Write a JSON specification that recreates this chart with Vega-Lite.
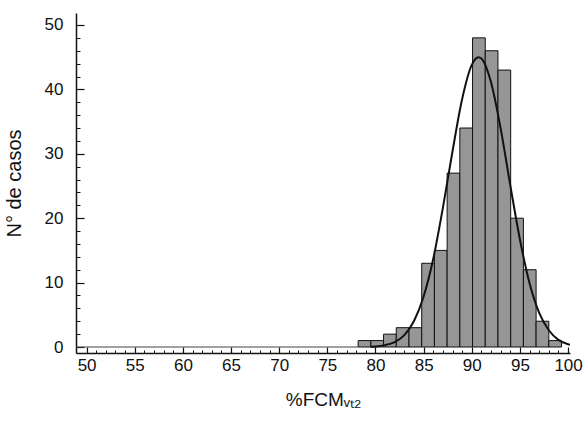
{
  "$schema": "https://vega.github.io/schema/vega-lite/v6.json",
  "width": 494,
  "height": 340,
  "autosize": "none",
  "padding": {"left": 76, "top": 13, "right": 17, "bottom": 69},
  "background": "white",
  "config": {
    "view": {"stroke": null},
    "font": "Liberation Sans",
    "axis": {"grid": false, "domainColor": "#111", "tickColor": "#111", "labelColor": "#111", "titleColor": "#111", "labelFont": "Liberation Sans", "titleFont": "Liberation Sans", "titleFontWeight": "normal"}
  },
  "datasets": {
    "bins": [
      {"x0": 78.2, "x1": 79.52, "n": 1},
      {"x0": 79.52, "x1": 80.84, "n": 1},
      {"x0": 80.84, "x1": 82.16, "n": 2},
      {"x0": 82.16, "x1": 83.48, "n": 3},
      {"x0": 83.48, "x1": 84.8, "n": 3},
      {"x0": 84.8, "x1": 86.12, "n": 13},
      {"x0": 86.12, "x1": 87.44, "n": 15},
      {"x0": 87.44, "x1": 88.76, "n": 27},
      {"x0": 88.76, "x1": 90.08, "n": 34},
      {"x0": 90.08, "x1": 91.4, "n": 48},
      {"x0": 91.4, "x1": 92.72, "n": 46},
      {"x0": 92.72, "x1": 94.04, "n": 43},
      {"x0": 94.04, "x1": 95.36, "n": 20},
      {"x0": 95.36, "x1": 96.68, "n": 12},
      {"x0": 96.68, "x1": 98.0, "n": 4},
      {"x0": 98.0, "x1": 99.32, "n": 1}
    ],
    "curve": [
      {"x": 79.5, "y": 0.05},
      {"x": 80, "y": 0.09},
      {"x": 81, "y": 0.29},
      {"x": 82, "y": 0.77},
      {"x": 83, "y": 1.85},
      {"x": 84, "y": 4.03},
      {"x": 85, "y": 7.84},
      {"x": 86, "y": 13.7},
      {"x": 87, "y": 21.6},
      {"x": 88, "y": 30.4},
      {"x": 89, "y": 38.5},
      {"x": 90, "y": 43.8},
      {"x": 90.7, "y": 45},
      {"x": 91, "y": 44.8},
      {"x": 92, "y": 41.1},
      {"x": 93, "y": 33.9},
      {"x": 94, "y": 25.1},
      {"x": 95, "y": 16.7},
      {"x": 96, "y": 9.9},
      {"x": 97, "y": 5.3},
      {"x": 98, "y": 2.6},
      {"x": 99, "y": 1.1},
      {"x": 100, "y": 0.43},
      {"x": 100.2, "y": 0.36}
    ],
    "base": [{"x0": 48.9, "x1": 78.2, "y": 0}]
  },
  "resolve": {"axis": {"x": "independent", "y": "independent"}},
  "layer": [
    {
      "data": {"name": "base"},
      "mark": {"type": "rule", "color": "#444", "strokeWidth": 1},
      "encoding": {
        "x": {"field": "x0", "type": "quantitative", "scale": {"domain": [48.9, 100.2], "nice": false, "zero": false}, "axis": null},
        "x2": {"field": "x1"},
        "y": {"field": "y", "type": "quantitative", "scale": {"domain": [-0.93, 51.86], "nice": false, "zero": false}, "axis": null}
      }
    },
    {
      "data": {"name": "bins"},
      "mark": {"type": "rect", "fill": "#969696", "stroke": "#111", "strokeWidth": 1},
      "encoding": {
        "x": {"field": "x0", "type": "quantitative", "scale": {"domain": [48.9, 100.2], "nice": false, "zero": false},
          "axis": {"orient": "bottom", "values": [50,55,60,65,70,75,80,85,90,95,100], "tickSize": -6, "tickWidth": 1.2, "domainWidth": 1.5, "labelFontSize": 17, "labelPadding": 10, "title": "%FCMᵥₜ₂", "titleFontSize": 19, "titlePadding": 17}},
        "x2": {"field": "x1"},
        "y": {"field": "n", "type": "quantitative", "scale": {"domain": [-0.93, 51.86], "nice": false, "zero": false},
          "axis": {"orient": "left", "values": [0,10,20,30,40,50], "tickSize": -8, "tickWidth": 1.2, "domainWidth": 1.5, "labelFontSize": 17, "labelPadding": 21, "title": "N° de casos", "titleFontSize": 20, "titlePadding": 20}},
        "y2": {"datum": 0}
      }
    },
    {
      "data": {"name": "curve"},
      "mark": {"type": "line", "color": "#111", "strokeWidth": 2, "clip": true, "interpolate": "monotone"},
      "encoding": {
        "x": {"field": "x", "type": "quantitative", "scale": {"domain": [48.9, 100.2], "nice": false, "zero": false},
          "axis": {"orient": "bottom", "values": [50,51,52,53,54,55,56,57,58,59,60,61,62,63,64,65,66,67,68,69,70,71,72,73,74,75,76,77,78,79,80,81,82,83,84,85,86,87,88,89,90,91,92,93,94,95,96,97,98,99,100], "tickSize": -3, "tickWidth": 1, "labels": false, "domain": false, "title": null}},
        "y": {"field": "y", "type": "quantitative", "scale": {"domain": [-0.93, 51.86], "nice": false, "zero": false},
          "axis": {"orient": "left", "values": [0,2,4,6,8,10,12,14,16,18,20,22,24,26,28,30,32,34,36,38,40,42,44,46,48,50], "tickSize": -4, "tickWidth": 1, "labels": false, "domain": false, "title": null}}
      }
    }
  ]
}
